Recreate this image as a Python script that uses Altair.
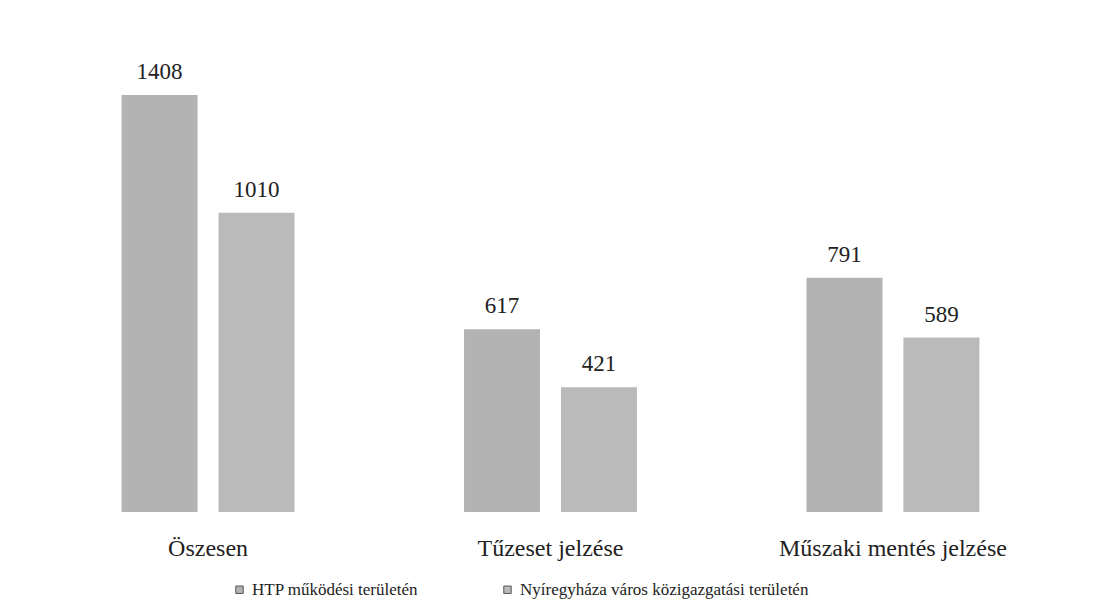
import altair as alt
import pandas as pd

categories = ["Öszesen", "Tűzeset jelzése", "Műszaki mentés jelzése"]
series = ["HTP működési területén", "Nyíregyháza város közigazgatási területén"]
htp_values = [1408, 617, 791]
nyh_values = [1010, 421, 589]

rows = []
for c, a, b in zip(categories, htp_values, nyh_values):
    rows.append({"cat": c, "series": series[0], "value": a})
    rows.append({"cat": c, "series": series[1], "value": b})
df = pd.DataFrame(rows)

font = "Liberation Serif"

x = alt.X("cat:N", sort=categories, title=None,
          scale=alt.Scale(paddingInner=0.495, paddingOuter=0.247),
          axis=alt.Axis(labelAngle=0, ticks=False, domain=False, labelFontSize=24,
                        labelFont=font, labelColor="#222222", labelPadding=24,
                        labelLimit=400))
xo = alt.XOffset("series:N", sort=series, scale=alt.Scale(paddingInner=0.216, paddingOuter=0))
y = alt.Y("value:Q", scale=alt.Scale(domain=[0, 1600]), axis=None)

base = alt.Chart(df).encode(x=x, xOffset=xo, y=y)

bars = base.mark_bar().encode(
    color=alt.Color("series:N", sort=series, title=None,
                    scale=alt.Scale(domain=series, range=["#b3b3b3", "#bababa"]),
                    legend=alt.Legend(orient="none", direction="horizontal",
                                      legendX=194, legendY=543,
                                      symbolType="square", symbolSize=55,
                                      symbolStrokeColor="#555555", symbolStrokeWidth=1,
                                      labelFont=font, labelFontSize=17, labelColor="#222222",
                                      columnPadding=80, labelLimit=450))
)
labels = base.mark_text(dy=-23, fontSize=23, font=font, color="#222222").encode(
    text=alt.Text("value:Q")
)

chart = (bars + labels).properties(
    width=1027, height=474,
    background="white",
    autosize=alt.AutoSizeParams(type="none"),
    padding={"left": 29, "top": 30, "right": 22, "bottom": 92},
).configure_view(stroke=None)

chart.save("out.html", embed_options={"renderer": "svg", "actions": False})
